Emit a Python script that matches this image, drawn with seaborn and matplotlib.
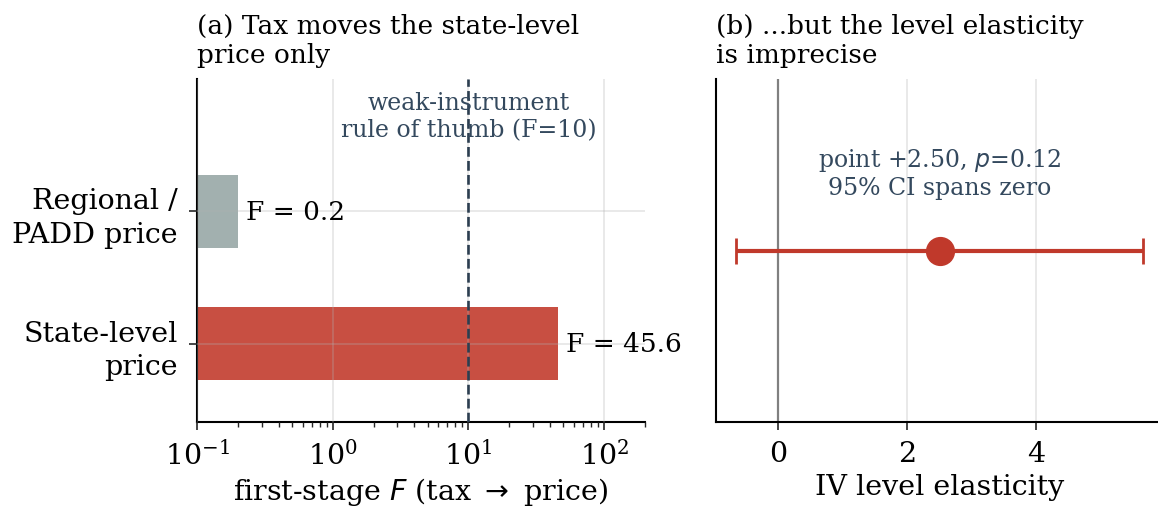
import numpy as np
import pandas as pd
import matplotlib
matplotlib.use("Agg")
import matplotlib.pyplot as plt
import seaborn as sns

# ---- data ----
categories = ["Regional /\nPADD price", "State-level\nprice"]
f_stats = [0.2, 45.6]
bar_labels = ["F = 0.2", "F = 45.6"]
bar_colors = ["#a2b0af", "#c84f42"]
weak_threshold = 10
point_est = 2.50
ci_low = -0.65
ci_high = 5.65
p_value = 0.12

sns.set_theme(style="white")
plt.rcParams["font.family"] = ["DejaVu Serif"]
plt.rcParams["mathtext.fontset"] = "dejavusans"

fig = plt.figure(figsize=(11.58, 5.10), dpi=100)
ax1 = fig.add_axes([197/1158, 1-423/510, (645-197)/1158, (423-80)/510])
ax2 = fig.add_axes([716/1158, 1-423/510, (1163-716)/1158, (423-80)/510])

GRID = dict(color="#b0b0b0", alpha=0.3, linewidth=1.3)

df = pd.DataFrame({"cat": categories, "F": f_stats})
sns.barplot(data=df, y="cat", x="F", hue="cat", palette=bar_colors, orient="h",
            width=0.55, ax=ax1, legend=False, saturation=1)
ax1.set_xscale("log")
ax1.set_xlim(0.1, 200)
ax1.set_ylim(1.59, -1.0)
ax1.grid(True, **GRID)
ax1.set_axisbelow(False)
for p in ax1.patches:
    p.set_zorder(1)
    p.set_edgecolor("none")
ax1.axvline(weak_threshold, color="#2c3e50", linestyle="--", linewidth=1.9, zorder=3)
ax1.text(weak_threshold, -0.72, "weak-instrument\nrule of thumb (F=10)", ha="center",
         va="center", color="#34495e", fontsize=17, zorder=4)
for i, (v, lab) in enumerate(zip(f_stats, bar_labels)):
    ax1.text(v * 1.15, i, lab, va="center", ha="left", fontsize=19, color="black")
ax1.set_ylabel("")
ax1.set_xlabel("first-stage $F$ (tax $\\rightarrow$ price)", fontsize=20.5, color="black")
ax1.tick_params(axis="x", labelsize=20.5, which="major", length=6, width=1.2, bottom=True,
                labelcolor="black", pad=7)
ax1.tick_params(axis="x", which="minor", length=3.5, width=1.0, bottom=True)
ax1.tick_params(axis="y", labelsize=20.5, length=6, width=1.2, left=True, pad=8,
                labelcolor="black")
for t in ax1.get_yticklabels():
    t.set_linespacing(1.3)
ax1.set_title("(a) Tax moves the state-level\nprice only", loc="left", fontsize=19,
              color="black", pad=12)
sns.despine(ax=ax1)

# right panel
ax2.errorbar([point_est], [0], xerr=[[point_est - ci_low], [ci_high - point_est]],
             fmt="o", color="#c0392b", markersize=20, elinewidth=3, capsize=9.5,
             capthick=2, zorder=3)
ax2.axvline(0, color="#808080", linewidth=1.6, zorder=2)
ax2.set_xlim(-0.965, 5.965)
ax2.set_ylim(-1, 1)
ax2.set_xticks([0, 2, 4])
ax2.set_yticks([])
ax2.grid(True, axis="x", **GRID)
ax2.text(2.5, 0.455, f"point +{point_est:.2f}, $p$={p_value}\n95% CI spans zero", ha="center",
         va="center", color="#34495e", fontsize=17)
ax2.set_xlabel("IV level elasticity", fontsize=20.5, color="black")
ax2.tick_params(axis="x", labelsize=20.5, length=6, width=1.2, bottom=True, labelcolor="black",
                pad=7)
ax2.set_title("(b) ...but the level elasticity\nis imprecise", loc="left", fontsize=19,
              color="black", pad=12)
sns.despine(ax=ax2)

for ax in (ax1, ax2):
    for s in ("left", "bottom"):
        ax.spines[s].set_color("black")
        ax.spines[s].set_linewidth(1.5)

fig.savefig("out.png", dpi=100)
